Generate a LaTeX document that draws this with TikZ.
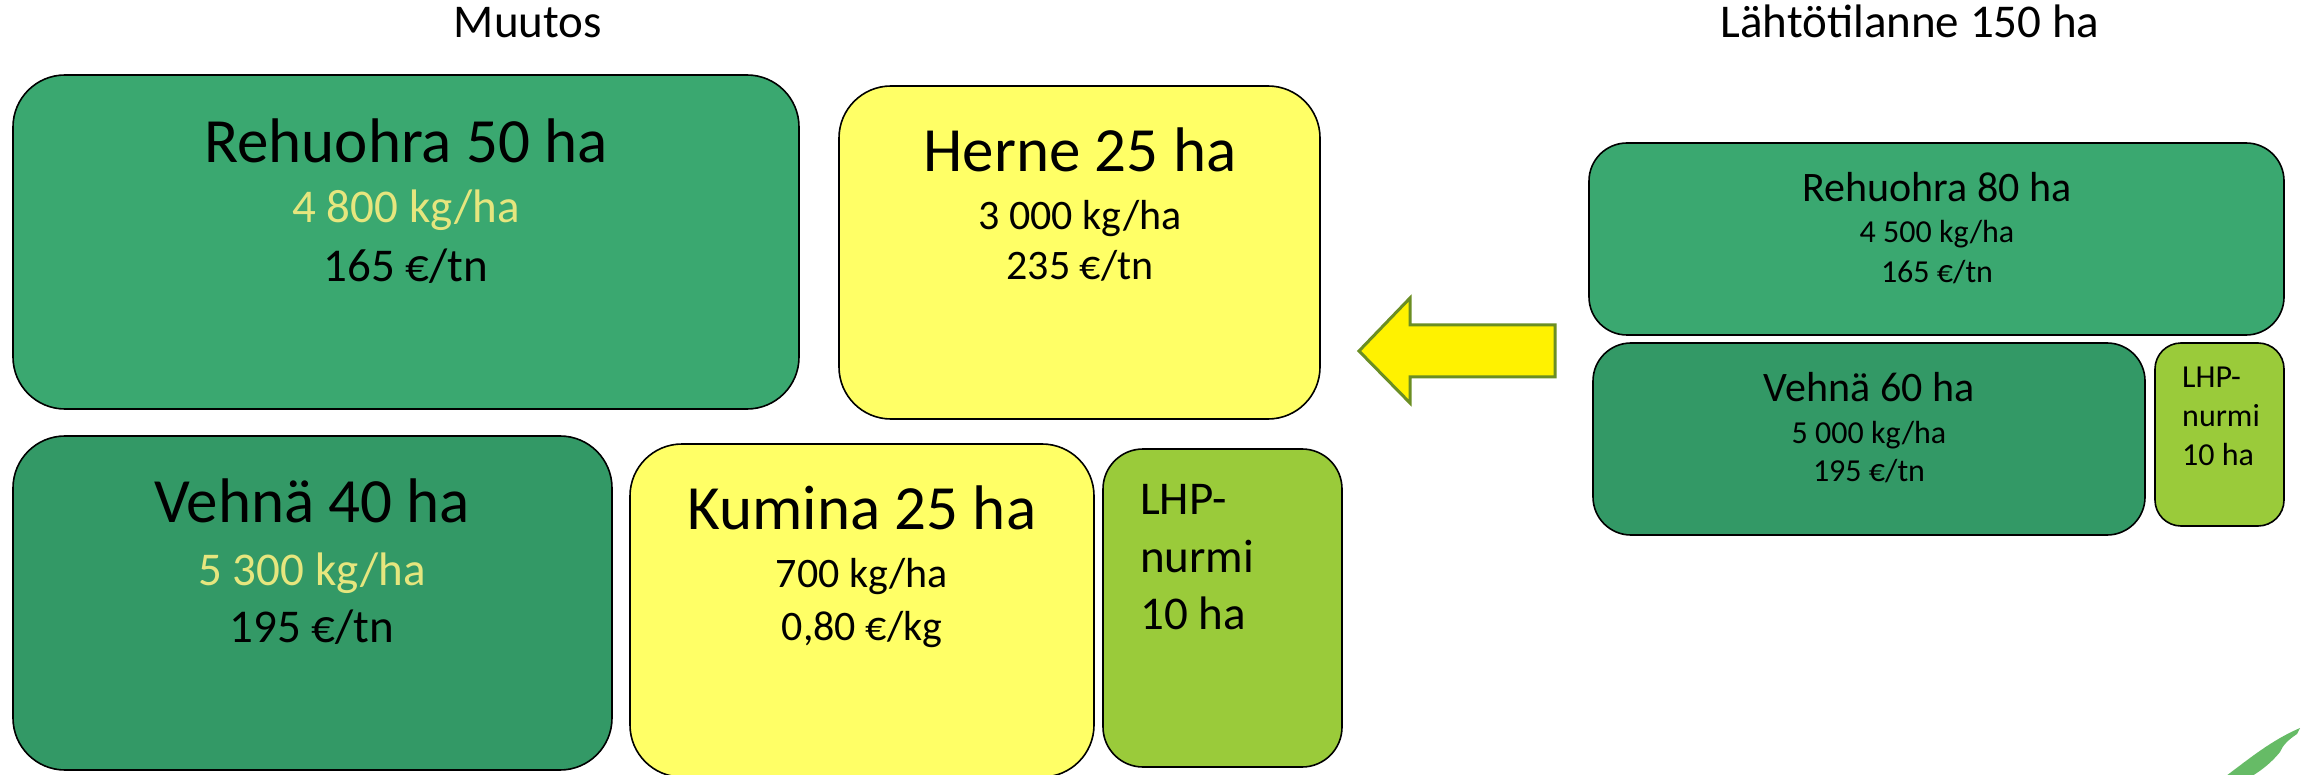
\documentclass[tikz,border=0pt]{standalone}
\usepackage{fontspec}
\setmainfont{Carlito}
\definecolor{rgreen}{HTML}{3AA870}
\definecolor{vgreen}{HTML}{339966}
\definecolor{lgreen}{HTML}{9ACB3A}
\definecolor{ybox}{HTML}{FFFF66}
\definecolor{ytext}{HTML}{E6E67E}
\definecolor{arrowline}{HTML}{6B8E23}
\definecolor{leafc}{HTML}{66BB66}
\newcommand{\fs}[1]{\fontsize{#1}{#1}\selectfont}
\tikzset{
  crop/.style={draw=black, line width=1.6pt, rounded corners=#1},
  ttl/.style={anchor=base, inner sep=0pt, font=\fs{63}},
  subA/.style={anchor=base, inner sep=0pt, font=\fs{47}},
  subB/.style={anchor=base, inner sep=0pt, font=\fs{42}},
  subC/.style={anchor=base, inner sep=0pt, font=\fs{32}},
  lhp/.style={anchor=base west, inner sep=0pt},
  head/.style={anchor=base, inner sep=0pt, font=\fs{47}},
}
\begin{document}
\begin{tikzpicture}[x=1pt,y=-1pt]
\useasboundingbox (0,0) rectangle (2305,775);
\fill[white] (0,0) rectangle (2305,775);
% headings
\node[head] (muutos) at (528,38) {Muutos};
\node[head] (lahto) at (1910,38) {Lähtötilanne 150 ha};
% --- Muutos boxes
\fill[crop=52pt, fill=rgreen] (13,75) rectangle (799,409);
\node[inner sep=0pt, minimum width=786pt, minimum height=334pt] (reh50) at (406,242) {};
\node[ttl] (reh50t) at (406,163) {Rehuohra 50 ha};
\node[subA, text=ytext] (reh50a) at (406,223) {4 800 kg/ha};
\node[subA] (reh50b) at (406,282) {165 €/tn};

\fill[crop=52pt, fill=ybox] (839,86) rectangle (1320,419);
\node[inner sep=0pt, minimum width=481pt, minimum height=333pt] (herne) at (1079.5,252.5) {};
\node[ttl] (hernet) at (1080,172) {Herne 25 ha};
\node[subB] (hernea) at (1080,230) {3 000 kg/ha};
\node[subB] (herneb) at (1080,280) {235 €/tn};

\fill[crop=52pt, fill=vgreen] (13,436) rectangle (612,770);
\node[inner sep=0pt, minimum width=599pt, minimum height=334pt] (veh40) at (312.5,603) {};
\node[ttl] (veh40t) at (312,522) {Vehnä 40 ha};
\node[subA, text=ytext] (veh40a) at (312,585) {5 300 kg/ha};
\node[subA] (veh40b) at (312,642) {195 €/tn};

\fill[crop=52pt, fill=ybox] (630,444) rectangle (1094,777);
\node[inner sep=0pt, minimum width=464pt, minimum height=331pt] (kum) at (862,610) {};
\node[ttl] (kumt) at (862,529) {Kumina 25 ha};
\node[subB] (kuma) at (862,587) {700 kg/ha};
\node[subB] (kumb) at (862,640) {0,80 €/kg};

\fill[crop=40pt, fill=lgreen] (1103,449) rectangle (1342,767);
\node[inner sep=0pt, minimum width=239pt, minimum height=318pt] (lhp1) at (1222.5,608) {};
\node[lhp, font=\fs{47}] (lhp1a) at (1140,514) {LHP-};
\node[lhp, font=\fs{47}] (lhp1b) at (1140,572) {nurmi};
\node[lhp, font=\fs{47}] (lhp1c) at (1140,629) {10 ha};

% --- Lähtötilanne boxes
\fill[crop=38pt, fill=rgreen] (1589,143) rectangle (2284,335);
\node[inner sep=0pt, minimum width=695pt, minimum height=192pt] (reh80) at (1936.5,239) {};
\node[subB] (reh80t) at (1937,202) {Rehuohra 80 ha};
\node[subC] (reh80a) at (1937,243) {4 500 kg/ha};
\node[subC] (reh80b) at (1937,283) {165 €/tn};

\fill[crop=38pt, fill=vgreen] (1593,343) rectangle (2145,535);
\node[inner sep=0pt, minimum width=552pt, minimum height=192pt] (veh60) at (1869,439) {};
\node[subB] (veh60t) at (1869,402) {Vehnä 60 ha};
\node[subC] (veh60a) at (1869,443) {5 000 kg/ha};
\node[subC] (veh60b) at (1869,481.5) {195 €/tn};

\fill[crop=26pt, fill=lgreen] (2155,343) rectangle (2284,526);
\node[inner sep=0pt, minimum width=129pt, minimum height=183pt] (lhp2) at (2219.5,434.5) {};
\node[lhp, font=\fs{32}] (lhp2a) at (2182,388) {LHP-};
\node[lhp, font=\fs{32}] (lhp2b) at (2182,427) {nurmi};
\node[lhp, font=\fs{32}] (lhp2c) at (2182,465) {10 ha};

% --- arrow
\draw[draw=arrowline, fill=yellow, line width=3pt, line join=miter]
  (1359,351) -- (1410,298) -- (1410,325) -- (1555,325) -- (1555,377)
  -- (1410,377) -- (1410,403) -- cycle;
\coordinate (arrowtip) at (1359,351);

% --- leaf (logo fragment)
\fill[leafc] (2226,776) .. controls (2250,758) and (2272,740) .. (2300,728)
  -- (2297,734) .. controls (2288,740) and (2283,745) .. (2280,752)
  .. controls (2272,762) and (2262,770) .. (2252,776) -- cycle;
\end{tikzpicture}
\end{document}
